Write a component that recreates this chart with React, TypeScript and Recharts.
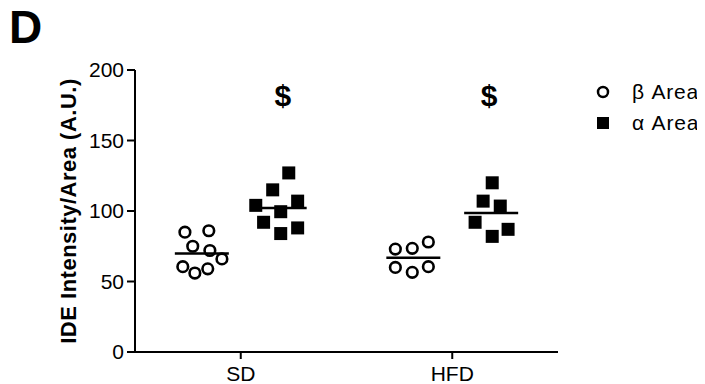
import { ScatterChart, Scatter, XAxis, YAxis, Legend, Label } from "recharts";

const groups = ["SD", "HFD"];
const yTicks = [0, 50, 100, 150, 200];

// β area (open circles)
const sdBeta = [85, 86, 75, 72, 66, 60.5, 56, 59];
const sdBetaJitter = [-0.08, 0.033, -0.043, 0.038, 0.095, -0.09, -0.033, 0.028];
const hfdBeta = [73, 73.5, 78, 60, 56.5, 60.5];
const hfdBetaJitter = [-0.085, -0.005, 0.071, -0.085, -0.005, 0.071];

// α area (filled squares)
const sdAlpha = [127, 115, 104, 107, 99.5, 92, 84, 88];
const sdAlphaJitter = [0.043, -0.033, -0.113, 0.085, 0.005, -0.076, 0.005, 0.085];
const hfdAlpha = [120, 107, 103.5, 92, 87, 82];
const hfdAlphaJitter = [0.005, -0.038, 0.043, -0.076, 0.08, 0.005];

const sigLabels = ["$", "$"];
const sigY = [181.5, 181.5];
const sigShift = [0.015, -0.01];

const BETA_NAME = "β Area";
const ALPHA_NAME = "α Area";
const BETA_OFF = -0.184;
const ALPHA_OFF = 0.184;
const FONT = "'Liberation Sans', Arial, sans-serif";

const mean = (arr: number[]) => arr.reduce((a, b) => a + b, 0) / arr.length;

const toPoints = (vals: number[], jit: number[], group: number, off: number) =>
  vals.map((y, i) => ({ x: group + off + jit[i], y }));

const betaData = [
  ...toPoints(sdBeta, sdBetaJitter, 1, BETA_OFF),
  ...toPoints(hfdBeta, hfdBetaJitter, 2, BETA_OFF),
];
const alphaData = [
  ...toPoints(sdAlpha, sdAlphaJitter, 1, ALPHA_OFF),
  ...toPoints(hfdAlpha, hfdAlphaJitter, 2, ALPHA_OFF),
];
const meanData = [
  { x: 1 + BETA_OFF, y: mean(sdBeta) },
  { x: 1 + ALPHA_OFF, y: mean(sdAlpha) },
  { x: 2 + BETA_OFF, y: mean(hfdBeta) },
  { x: 2 + ALPHA_OFF, y: mean(hfdAlpha) },
];
const sigData = sigLabels.map((label, i) => ({
  x: i + 1 + ALPHA_OFF + sigShift[i],
  y: sigY[i],
  label,
}));

const CircleDot = (props: any) => (
  <circle cx={props.cx} cy={props.cy} r={5.3} fill="#fff" stroke="#000" strokeWidth={2.6} />
);

const SquareDot = (props: any) => (
  <rect x={props.cx - 6.5} y={props.cy - 6.5} width={13} height={13} fill="#000" />
);

const MeanLine = (props: any) => (
  <line x1={props.cx - 27} x2={props.cx + 27} y1={props.cy} y2={props.cy} stroke="#000" strokeWidth={2.5} />
);

const SigMark = (props: any) => (
  <text
    x={props.cx}
    y={props.cy + 10}
    textAnchor="middle"
    fontSize={30}
    fontWeight="bold"
    fontFamily={FONT}
    fill="#000"
  >
    {props.payload.label}
  </text>
);

function LegendBox({ payload }: any) {
  const items = [BETA_NAME, ALPHA_NAME].filter((n) =>
    (payload || []).some((p: any) => p.value === n)
  );
  return (
    <div style={{ fontFamily: FONT, fontSize: 21, color: "#000" }}>
      {items.map((name) => (
        <div key={name} style={{ display: "flex", alignItems: "center", height: 31 }}>
          <svg width={36} height={16}>
            {name === BETA_NAME ? (
              <circle cx={7} cy={8} r={5} fill="#fff" stroke="#000" strokeWidth={2.5} />
            ) : (
              <rect x={1} y={2} width={12} height={12} fill="#000" />
            )}
          </svg>
          <span style={{ letterSpacing: 0.8 }}>{name}</span>
        </div>
      ))}
    </div>
  );
}

export default function App() {
  return (
    <div style={{ position: "relative", width: 697, height: 376, background: "#fff" }}>
      <div
        style={{
          position: "absolute",
          left: 1,
          top: -4,
          fontFamily: FONT,
          fontSize: 46,
          fontWeight: "bold",
          lineHeight: 1,
          color: "#000",
        }}
      >
        D
      </div>
      <ScatterChart width={697} height={376} margin={{ top: 62, right: 147, bottom: 0, left: 0 }}>
        <XAxis
          type="number"
          dataKey="x"
          domain={[0.5, 2.5]}
          ticks={[1, 2]}
          tickFormatter={(v) => groups[v - 1]}
          height={32}
          tickSize={7}
          tickMargin={7}
          axisLine={{ stroke: "#000", strokeWidth: 2 }}
          tickLine={{ stroke: "#000", strokeWidth: 2 }}
          tick={{ fill: "#000", fontSize: 21, fontFamily: FONT }}
          allowDataOverflow
        />
        <YAxis
          type="number"
          dataKey="y"
          domain={[0, 200]}
          ticks={yTicks}
          width={127}
          tickSize={8}
          tickMargin={3}
          axisLine={{ stroke: "#000", strokeWidth: 2 }}
          tickLine={{ stroke: "#000", strokeWidth: 2 }}
          tick={{ fill: "#000", fontSize: 21, fontFamily: FONT }}
          allowDataOverflow
        >
          <Label
            value="IDE Intensity/Area (A.U.)"
            angle={-90}
            position="center"
            dx={-3}
            style={{ fontSize: 22, fontWeight: "bold", fontFamily: FONT, fill: "#000", letterSpacing: 0.5 }}
          />
        </YAxis>
        <Legend
          layout="horizontal"
          verticalAlign="middle"
          align="center"
          content={<LegendBox />}
          wrapperStyle={{ position: "absolute", left: 588, top: 68, width: 110 }}
        />
        <Scatter name={BETA_NAME} data={betaData} shape={<CircleDot />} isAnimationActive={false} />
        <Scatter name={ALPHA_NAME} data={alphaData} shape={<SquareDot />} isAnimationActive={false} />
        <Scatter name="mean" data={meanData} shape={<MeanLine />} legendType="none" isAnimationActive={false} />
        <Scatter name="sig" data={sigData} shape={<SigMark />} legendType="none" isAnimationActive={false} />
      </ScatterChart>
    </div>
  );
}
